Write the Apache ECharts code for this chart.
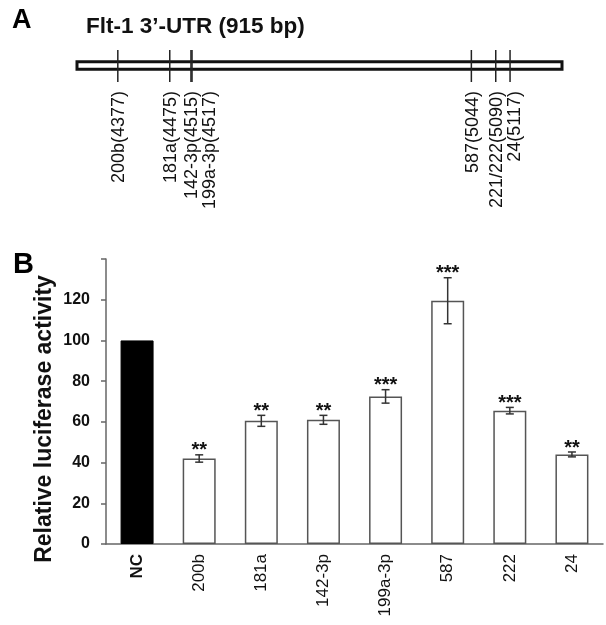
<!DOCTYPE html>
<html><head><meta charset="utf-8">
<script src="https://cdn.jsdelivr.net/npm/echarts@6.0.0/dist/echarts.min.js"></script>
<style>html,body{margin:0;padding:0;background:#fff}#c{width:606px;height:625px}</style>
</head><body><div id="c"></div>
<script>
// Panel A data
const utrTitle = 'Flt-1 3\u2019-UTR (915 bp)';
const utrStart = 4300;
const utrEnd = 5215;
const siteNames = ['200b', '181a', '142-3p', '199a-3p', '587', '221/222', '24'];
const sitePositions = [4377, 4475, 4515, 4517, 5044, 5090, 5117];
// Panel B data
const categories = ['NC', '200b', '181a', '142-3p', '199a-3p', '587', '222', '24'];
const activity = [100, 42, 60.5, 61, 72.5, 119.5, 65.5, 44];
const errors = [0, 1.8, 2.7, 2.2, 3.3, 11.3, 1.6, 1.2];
const significance = ['', '**', '**', '**', '***', '***', '***', '**'];
const yMax = 140;
const yStep = 20;
const yTitle = 'Relative luciferase activity';

const FONT = '"Liberation Sans", Arial, sans-serif';
const chart = echarts.init(document.getElementById('c'), null, {renderer: 'canvas'});

function labelXs(api) {
  const xs = [];
  let prev = -1e9;
  for (let j = 0; j < sitePositions.length; j++) {
    const px = api.coord([sitePositions[j], 0])[0] + 1.5;
    const lx = Math.max(px, prev + 18);
    xs.push(lx);
    prev = lx;
  }
  return xs;
}

const option = {
  animation: false,
  backgroundColor: '#fff',
  title: [
    {text: 'A', left: 7, top: 2, textStyle: {fontFamily: FONT, fontWeight: 'bold', fontSize: 27, color: '#000'}},
    {text: utrTitle, left: 81, top: 10, textStyle: {fontFamily: FONT, fontWeight: 'bold', fontSize: 22.5, color: '#111'}},
    {text: 'B', left: 8, top: 245, textStyle: {fontFamily: FONT, fontWeight: 'bold', fontSize: 29, color: '#000'}}
  ],
  grid: [
    {left: 77, width: 485, top: 50, height: 32},
    {left: 106, right: 3, top: 259, height: 285}
  ],
  xAxis: [
    {gridIndex: 0, type: 'value', min: utrStart, max: utrEnd, show: false},
    {
      gridIndex: 1, type: 'category',
      data: categories.map((c, i) => i === 0 ? {value: c, textStyle: {fontWeight: 'bold'}} : c),
      axisLine: {lineStyle: {color: '#666', width: 1.5}},
      axisTick: {show: false},
      axisLabel: {rotate: 90, margin: 10, fontFamily: FONT, fontSize: 17, color: '#111', interval: 0}
    }
  ],
  yAxis: [
    {gridIndex: 0, type: 'value', min: 0, max: 1, show: false},
    {
      gridIndex: 1, type: 'value', min: 0, max: yMax, interval: yStep,
      splitLine: {show: false},
      axisLine: {show: true, lineStyle: {color: '#666', width: 1.5}},
      axisTick: {show: true, length: 5, lineStyle: {color: '#666', width: 1.5}},
      axisLabel: {margin: 16, fontFamily: FONT, fontSize: 16, fontWeight: 'bold', color: '#111',
        formatter: v => v === yMax ? '' : String(v)}
    }
  ],
  graphic: [
    {type: 'text', x: 45, y: 419, rotation: Math.PI / 2,
      style: {text: yTitle, font: 'bold 23px ' + FONT, align: 'center', verticalAlign: 'middle', fill: '#111'}}
  ],
  series: [
    {
      type: 'custom', xAxisIndex: 0, yAxisIndex: 0, silent: true,
      data: [[utrStart, utrEnd]],
      renderItem(params, api) {
        const a = api.coord([api.value(0), 0.5]);
        const b = api.coord([api.value(1), 0.5]);
        return {type: 'rect', shape: {x: a[0], y: a[1] - 4.2, width: b[0] - a[0], height: 7.5},
          style: {fill: '#fff', stroke: '#111', lineWidth: 3}};
      }
    },
    {
      type: 'custom', xAxisIndex: 0, yAxisIndex: 0, silent: true,
      data: sitePositions.map(p => [p]),
      renderItem(params, api) {
        const i = params.dataIndex;
        const x = api.coord([api.value(0), 0])[0];
        const yTop = api.coord([utrStart, 1])[1];
        const yBot = api.coord([utrStart, 0])[1];
        const lx = labelXs(api)[i];
        return {type: 'group', children: [
          {type: 'line', shape: {x1: x, y1: yTop, x2: x, y2: yBot}, style: {stroke: '#222', lineWidth: 1.5}},
          {type: 'text', x: lx, y: yBot + 9, rotation: Math.PI / 2,
            style: {text: siteNames[i] + '(' + sitePositions[i] + ')', font: '18px ' + FONT,
              align: 'right', verticalAlign: 'middle', fill: '#111'}}
        ]};
      }
    },
    {
      type: 'bar', xAxisIndex: 1, yAxisIndex: 1, barWidth: 33,
      data: activity.map((v, i) => ({
        value: v,
        itemStyle: i === 0 ? {color: '#000', borderColor: '#000', borderWidth: 1}
                           : {color: '#fff', borderColor: '#555', borderWidth: 1.5}
      }))
    },
    {
      type: 'custom', xAxisIndex: 1, yAxisIndex: 1, silent: true, z: 5,
      data: activity.map((v, i) => [i, v, errors[i]]),
      renderItem(params, api) {
        const i = api.value(0), v = api.value(1), e = api.value(2);
        const top = api.coord([i, v + e]);
        const bot = api.coord([i, v - e]);
        const cx = top[0];
        const st = {stroke: '#333', lineWidth: 1.5};
        const ch = [];
        if (e > 0) {
          ch.push({type: 'line', shape: {x1: cx, y1: top[1], x2: cx, y2: bot[1]}, style: st});
          ch.push({type: 'line', shape: {x1: cx - 4, y1: top[1], x2: cx + 4, y2: top[1]}, style: st});
          ch.push({type: 'line', shape: {x1: cx - 4, y1: bot[1], x2: cx + 4, y2: bot[1]}, style: st});
        }
        const s = significance[params.dataIndex];
        if (s) {
          ch.push({type: 'text', x: cx, y: top[1] - 4,
            style: {text: s, font: 'bold 20px ' + FONT, align: 'center', verticalAlign: 'middle', fill: '#111'}});
        }
        return {type: 'group', children: ch};
      }
    }
  ]
};
chart.setOption(option);
</script>
</body></html>
